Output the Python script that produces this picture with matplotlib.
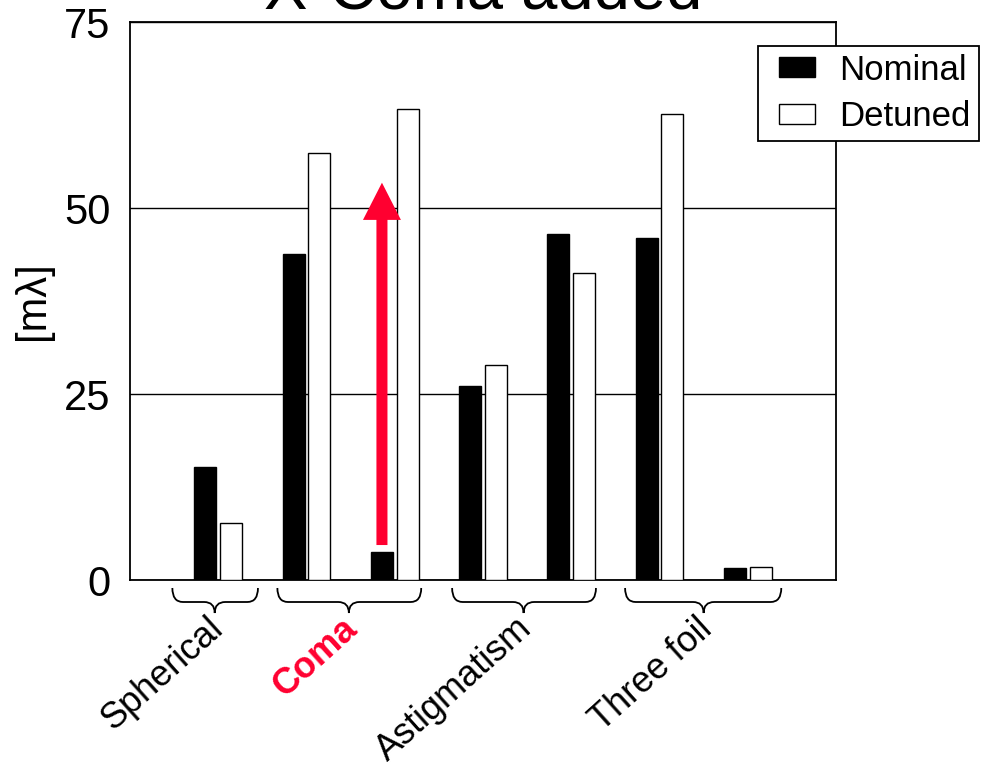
import matplotlib
matplotlib.use("Agg")
import matplotlib.pyplot as plt
import matplotlib.transforms as mtransforms
from matplotlib.path import Path
from matplotlib.patches import PathPatch, FancyArrow, Rectangle
from matplotlib.legend_handler import HandlerPatch
from matplotlib.container import BarContainer
import numpy as np

plt.rcParams['font.family'] = ['Liberation Sans', 'DejaVu Sans']

# ---- data ----
positions = [1, 2, 3, 4, 5, 6, 7]
nominal = [15.2, 43.8, 3.8, 26.1, 46.5, 46.0, 1.6]
detuned = [7.6, 57.4, 63.3, 28.9, 41.3, 62.6, 1.8]
group_names = ["Spherical", "Coma", "Astigmatism", "Three foil"]
group_colors = ["black", "#FF0030", "black", "black"]
group_weights = ["normal", "bold", "normal", "normal"]
# brace spans (x data) : start, end, tip
brace_start = [0.48, 1.67, 3.65, 5.61]
brace_end = [1.45, 3.30, 5.28, 7.38]
brace_tip = [0.96, 2.48, 4.46, 6.50]
yticks = [0, 25, 50, 75]
series_names = ["Nominal", "Detuned"]
title = "X-Coma added"
ylabel = "[m\u03bb]"
arrow_from = 4.7
arrow_to = 53.4
arrow_bar = 2  # index of the bar the arrow sits on

W, H = 1000, 763
fig = plt.figure(figsize=(W / 100, H / 100), dpi=100)
ax = fig.add_axes([130 / W, 1 - 580 / H, 706 / W, 558 / H])

off = 0.145
bw = 0.25
x = np.array(positions, dtype=float)
ax.bar(x - off, nominal, width=bw, color="black", edgecolor="black",
       linewidth=1.0, label=series_names[0], zorder=3)
ax.bar(x + off, detuned, width=bw, color="white", edgecolor="black",
       linewidth=1.0, label=series_names[1], zorder=3)

ax.set_xlim(0, 8)
ax.set_ylim(0, 75)
ax.set_yticks(yticks)
ax.set_xticks([])
ax.tick_params(axis="y", length=0, pad=14, labelsize=30)
ax.yaxis.grid(True, color="black", linewidth=1.0, zorder=0)
ax.set_axisbelow(True)
for s in ax.spines.values():
    s.set_linewidth(1.3)
    s.set_color("black")

ax.set_ylabel(ylabel, fontsize=30)
ax.yaxis.set_label_coords((53 - 130) / 706, 0.5)
ax.set_title(title, fontsize=47, pad=10)

# arrow
ax_x = x[arrow_bar] - off
arr = FancyArrow(ax_x, arrow_from, 0, arrow_to - arrow_from, width=0.125,
                 head_width=0.43, head_length=5.0, length_includes_head=True,
                 color="#FF0030", linewidth=0, zorder=5)
ax.add_patch(arr)

# braces
trans = mtransforms.blended_transform_factory(ax.transData, ax.transAxes)
ytop = (580 - 588) / 558
ymid = (580 - 602) / 558
ytip = (580 - 613) / 558
r = 0.12
for x0, x1, xm in zip(brace_start, brace_end, brace_tip):
    verts = [(x0, ytop), (x0, ymid), (x0 + r, ymid), (xm - r, ymid),
             (xm, ymid), (xm, ytip), (xm, ymid), (xm + r, ymid),
             (x1 - r, ymid), (x1, ymid), (x1, ytop)]
    codes = [Path.MOVETO, Path.CURVE3, Path.CURVE3, Path.LINETO,
             Path.CURVE3, Path.CURVE3, Path.CURVE3, Path.CURVE3,
             Path.LINETO, Path.CURVE3, Path.CURVE3]
    pp = PathPatch(Path(verts, codes), transform=trans, fill=False,
                   edgecolor="black", linewidth=1.3, clip_on=False)
    ax.add_patch(pp)

# group labels (baseline end anchored just below-right of each brace tip)
ylab = (580 - 631) / 558
for name, col, wt, xm in zip(group_names, group_colors, group_weights, brace_tip):
    ax.text(xm + 0.11, ylab, name, transform=trans, rotation=42,
            rotation_mode="anchor", ha="right", va="baseline",
            fontsize=26, color=col, fontweight=wt, clip_on=False)


# legend: handle drawn in the right part of a wider handle box
def make_rect(legend, orig_handle, xdescent, ydescent, width, height, fontsize):
    rw = 36 * 72 / 100
    return Rectangle((width - rw - xdescent, -ydescent), rw, height)


def upd(legend_handle, orig_handle):
    legend_handle.update_from(orig_handle[0])


leg = ax.legend(loc="upper left", bbox_to_anchor=(758 / W, 1 - 46 / H),
                bbox_transform=fig.transFigure, borderaxespad=0,
                fontsize=25, frameon=True, fancybox=False, shadow=False,
                handlelength=1.41, handleheight=0.52, handletextpad=0.72,
                borderpad=0.22, labelspacing=0.39, framealpha=1,
                handler_map={BarContainer: HandlerPatch(patch_func=make_rect,
                                                        update_func=upd)})
leg.get_frame().set_edgecolor("black")
leg.get_frame().set_linewidth(1.3)

fig.savefig("out.png", dpi=100)
